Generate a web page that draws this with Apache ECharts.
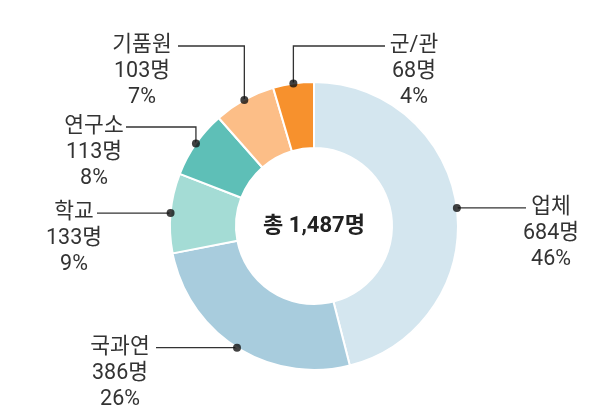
<!DOCTYPE html>
<html><head><meta charset="utf-8">
<script src="https://cdn.jsdelivr.net/npm/echarts@6/dist/echarts.min.js"></script>
<style>html,body{margin:0;padding:0;background:#fff}#c{width:607px;height:413px}</style>
</head><body><div id="c"></div>
<script>
const categories = ['업체','국과연','학교','연구소','기품원','군/관'];
const counts = [684,386,133,113,103,68];
const percents = [46,26,9,8,7,4];
const colors = ['#d4e6ef','#a8ccdd','#a4dcd5','#5ebfb7','#fcbe87','#f7912d'];

const CX = 314, CY = 226, R_OUT = 144, R_IN = 78;
const LH = 26, FS = 21.5;
const FONT = "Roboto,'Noto Sans CJK KR','Noto Sans',sans-serif";
const labelPlace = [
  {bend:false, cx:551, endX:526},
  {bend:false, cx:120, endX:156},
  {bend:false, cx:74,  endX:97},
  {bend:true, lineY:127, cx:94,  endX:126},
  {bend:true, lineY:46,  cx:142, endX:178},
  {bend:true, lineY:46,  cx:414, endX:385}
];
const total = counts.reduce((a,b)=>a+b,0);
const mids = []; let acc = 0;
counts.forEach(v => { mids.push(acc + v/2); acc += v; });

const chart = echarts.init(document.getElementById('c'));
chart.setOption({
  animation:false,
  backgroundColor:'#fff',
  polar:{center:[CX,CY], radius:R_OUT},
  angleAxis:{type:'value', min:0, max:total, startAngle:90, clockwise:true,
    axisLine:{show:false}, axisTick:{show:false}, axisLabel:{show:false}, splitLine:{show:false}},
  radiusAxis:{type:'value', min:0, max:1,
    axisLine:{show:false}, axisTick:{show:false}, axisLabel:{show:false}, splitLine:{show:false}},
  graphic:[{type:'text', x:CX, y:CY, z:100,
    style:{text:'총 ' + total.toLocaleString('en-US') + '명', align:'center', verticalAlign:'middle',
      font:'bold 22px ' + FONT, fill:'#222'}}],
  series:[
    {
      type:'pie', center:[CX,CY], radius:[R_IN,R_OUT], startAngle:90, clockwise:true,
      avoidLabelOverlap:false,
      itemStyle:{borderColor:'#fff', borderWidth:2},
      data: categories.map((n,i)=>({name:n, value:counts[i], itemStyle:{color:colors[i]}})),
      label:{show:true, position:'outside', color:'#333', fontSize:FS, lineHeight:LH, fontFamily:FONT,
        formatter: p => categories[p.dataIndex] + '\n' + counts[p.dataIndex] + '명\n' + percents[p.dataIndex] + '%'},
      labelLine:{show:true, length:10, length2:10, lineStyle:{color:'#333', width:1.3}},
      labelLayout: function(p){
        const i = p.dataIndex, L = labelPlace[i];
        let s = p.labelLinePoints && p.labelLinePoints[0];
        if(!s){
          const a = (90 - 360*mids[i]/total)*Math.PI/180;
          s = [CX + R_OUT*Math.cos(a), CY - R_OUT*Math.sin(a)];
        }
        const ly = L.bend ? L.lineY : s[1];
        const pts = [[s[0],s[1]],[s[0],ly],[L.endX,ly]];
        return {x:L.cx, y:ly - LH/2, align:'center', verticalAlign:'top', labelLinePoints:pts};
      },
      emphasis:{disabled:true}, silent:true
    },
    {
      type:'scatter', coordinateSystem:'polar', symbolSize:8, z:10,
      itemStyle:{color:'#111'},
      data: mids.map(m=>[1,m]), silent:true
    }
  ]
});
</script></body></html>
